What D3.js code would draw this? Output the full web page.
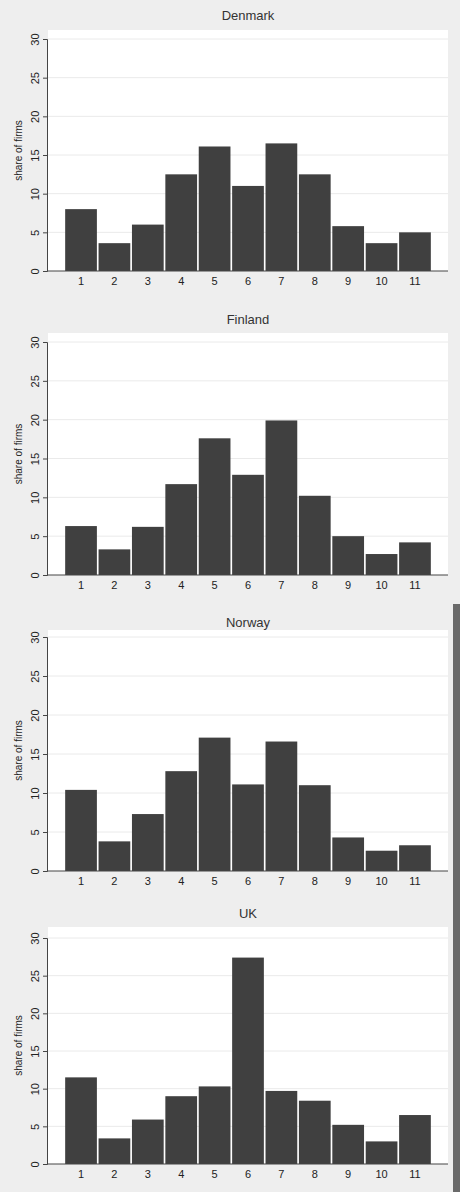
<!DOCTYPE html><html><head><meta charset="utf-8"><script src="https://cdn.jsdelivr.net/npm/d3@7"></script>
<style>body{margin:0;background:#eeeeee}</style></head><body><svg id="c" width="460" height="1192"></svg><script>
const categories=[1,2,3,4,5,6,7,8,9,10,11];
const countries=["Denmark","Finland","Norway","UK"];
const denmark=[8,3.6,6,12.5,16.1,11,16.5,12.5,5.8,3.6,5];
const finland=[6.3,3.3,6.2,11.7,17.6,12.9,19.9,10.2,5,2.7,4.2];
const norway=[10.4,3.8,7.3,12.8,17.1,11.1,16.6,11,4.3,2.6,3.3];
const uk=[11.5,3.4,5.9,9,10.3,27.4,9.7,8.4,5.2,3.0,6.5];
const yTicks=[0,5,10,15,20,25,30];
const series=[denmark,finland,norway,uk];
const layout=[{title:20,top:30,y30:39,zero:271},{title:324,top:333,y30:342,zero:575},{title:627,top:630,y30:637,zero:871},{title:918,top:927,y30:938,zero:1164}];
const svg=d3.select("#c");
svg.append("rect").attr("x",453).attr("y",604).attr("width",7).attr("height",588).attr("fill","#6a6a6a");
const x=d3.scaleBand().domain(categories).range([64.5,431.5]).paddingInner(0.05).paddingOuter(0.02);
series.forEach((vals,i)=>{
 const L=layout[i];
 const g=svg.append("g");
 const y=d3.scaleLinear().domain([0,30]).range([L.zero,L.y30]);
 g.append("rect").attr("x",48).attr("y",L.top).attr("width",400).attr("height",L.zero-L.top).attr("fill","#fff");
 g.selectAll("line.grid").data(yTicks.slice(1)).join("line").attr("x1",48).attr("x2",448).attr("y1",d=>y(d)).attr("y2",d=>y(d)).attr("stroke","#eaeaea").attr("stroke-width",1);
 g.selectAll("rect.bar").data(vals).join("rect").attr("x",(d,j)=>x(categories[j])).attr("width",x.bandwidth()).attr("y",d=>y(d)).attr("height",d=>L.zero-y(d)).attr("fill","#404040");
 const ya=g.append("g").attr("transform","translate(47,0)").call(d3.axisLeft(y).tickValues(yTicks).tickSize(4).tickPadding(3));
 ya.selectAll("text").attr("x",0).attr("y",0).attr("dy","0.35em").attr("transform","translate(-12,0) rotate(-90)").style("text-anchor","middle");
 const xa=g.append("g").attr("transform",`translate(0,${L.zero})`).call(d3.axisBottom(x).tickSize(0).tickPadding(6));
 xa.select(".domain").attr("d","M47,0H448");
 [ya,xa].forEach(a=>{a.selectAll("text").attr("font-family","Liberation Sans, Arial").attr("font-size",11).attr("fill","#222");a.selectAll(".domain,line").attr("stroke","#444");});
 g.append("text").attr("transform",`translate(22,${(L.top+L.zero)/2}) rotate(-90)`).attr("text-anchor","middle").attr("font-family","Liberation Sans, Arial").attr("font-size",10).attr("fill","#222").text("share of firms");
 g.append("text").attr("x",248).attr("y",L.title).attr("text-anchor","middle").attr("font-family","Liberation Sans, Arial").attr("font-size",13).attr("fill","#333").text(countries[i]);
});
</script></body></html>
